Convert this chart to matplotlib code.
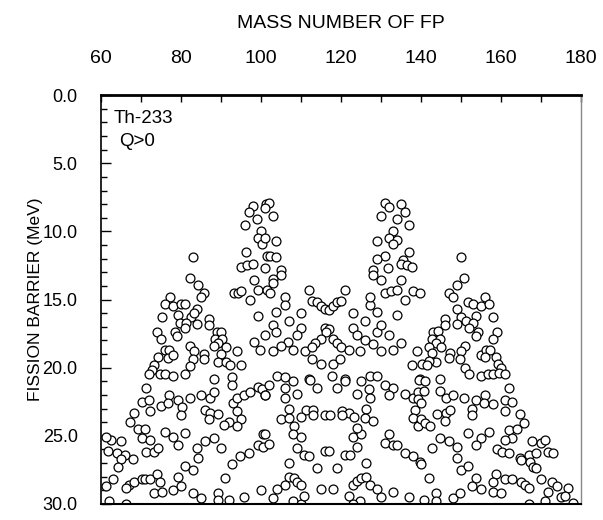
import matplotlib.pyplot as plt
from matplotlib.ticker import MultipleLocator

# Barrera de fision vs. numero masico del fragmento (Th-233, Q>0)
# banda superior: picos (E < 12 MeV)
masa_sup = [97.9, 101.2, 97.0, 99.0, 96.0, 100.0, 99.1, 100.2, 96.1, 83.0, 101.4,
            101.9, 100.9, 103.0, 100.9, 103.8, 102.2, 103.8,
            130.9, 132.1, 135.0, 136.0, 130.0, 133.9, 137.0, 132.9, 129.0, 131.9,
            133.9, 132.9, 137.0, 131.1, 129.0, 135.4, 150.1]
barrera_sup = [8.1, 8.0, 8.6, 9.1, 9.5, 10.0, 10.5, 10.9, 11.5, 11.9, 11.8,
               7.9, 8.3, 8.9, 10.5, 10.7, 11.8, 11.9,
               7.9, 8.2, 8.0, 8.6, 8.9, 9.1, 9.5, 10.0, 10.7, 10.5,
               10.6, 10.9, 11.5, 11.8, 12.0, 12.1, 11.9]

# banda media (12 - 21 MeV)
masa_med = [95.0, 96.5, 98.0, 101.0, 82.1, 84.2, 98.1, 93.2, 94.2, 95.0, 97.1, 99.1,
            101.4, 85.8, 85.0, 77.2, 76.0, 78.0, 79.9, 80.9, 84.0, 75.2, 79.1, 82.4,
            83.2, 79.6, 81.3, 84.0, 87.0, 87.0, 99.1, 80.9, 78.4, 73.9, 78.9, 75.0,
            89.0, 89.9, 88.4, 90.3, 101.0, 98.1, 99.8, 89.3, 88.3, 91.2, 82.1, 76.0,
            77.0, 74.2, 76.8, 78.0, 83.2, 85.8, 89.9, 94.0, 83.0, 85.8, 89.1, 91.2,
            92.2, 95.0, 82.1, 73.1, 72.7, 71.9, 74.8, 76.0, 78.0, 80.9, 88.3, 92.8,
            105.0, 105.0, 103.0, 103.0, 102.2, 106.0, 106.0, 103.8, 110.1, 112.0,
            112.8, 114.0, 115.0, 116.1, 116.9, 118.0, 119.1, 119.9, 121.0, 107.1,
            103.0, 103.8, 110.0, 109.0, 106.8, 105.0, 108.1, 103.0, 110.9, 116.1,
            116.9, 116.3, 115.0, 113.6, 112.8, 118.0, 119.1, 119.9, 122.1, 123.1,
            125.9, 123.1, 123.9, 125.9, 124.7, 128.0, 129.0, 130.0, 131.9, 129.0,
            127.2, 127.2, 131.1, 132.5, 133.9, 136.0, 138.0, 139.9, 134.9, 128.0,
            128.1, 130.0, 131.7, 134.9, 136.6, 137.8, 133.9, 130.0, 132.9, 134.9,
            139.0, 137.8, 140.3, 112.8, 115.0, 118.0, 119.8, 104.0, 106.0, 112.0,
            117.7, 121.0, 127.2, 129.0,
            150.9, 149.0, 147.0, 148.0, 151.9, 153.1, 155.0, 156.0, 157.0, 149.0,
            158.0, 153.9, 150.1, 151.3, 153.1, 149.0, 146.0, 146.0, 152.1, 154.2,
            153.9, 159.1, 158.0, 143.1, 144.3, 142.9, 144.9, 143.9, 145.1, 142.1,
            147.2, 151.1, 150.1, 147.0, 149.8, 142.9, 143.9, 142.1, 141.5, 155.0,
            156.4, 157.2, 156.0, 158.7, 159.3, 151.1, 160.1, 152.1, 155.0, 156.9,
            158.0, 159.5, 161.1, 144.9, 139.8]
barrera_med = [12.6, 12.5, 12.4, 12.7, 13.4, 13.9, 13.6, 14.5, 14.5, 14.4, 15.0, 14.3,
               14.3, 14.5, 14.8, 14.8, 15.3, 15.5, 15.3, 15.3, 15.7, 16.3, 16.1, 16.3,
               16.0, 16.7, 16.7, 16.8, 16.4, 16.9, 16.2, 17.1, 17.4, 17.4, 17.7, 17.9,
               17.4, 17.4, 17.9, 17.9, 17.6, 18.1, 18.7, 18.2, 18.4, 18.5, 18.4, 18.7,
               18.7, 19.2, 19.3, 19.1, 18.8, 19.0, 19.0, 18.8, 19.4, 19.4, 19.6, 19.6,
               19.8, 19.8, 19.9, 19.8, 20.2, 20.5, 20.5, 20.5, 20.6, 20.5, 20.8, 20.7,
               12.8, 13.2, 13.5, 13.8, 14.5, 14.8, 15.4, 15.9, 16.0, 14.3,
               15.1, 15.2, 15.5, 15.7, 15.8, 15.5, 15.2, 15.1, 14.3, 16.6,
               16.9, 17.4, 17.1, 17.6, 18.1, 18.4, 18.7, 18.8, 18.8, 17.1,
               17.2, 17.4, 17.9, 18.2, 18.5, 17.9, 18.2, 18.5, 18.7, 16.0,
               16.6, 17.1, 17.6, 18.0, 18.8, 18.3, 17.4, 16.9, 17.6, 15.9,
               15.4, 14.8, 14.5, 14.4, 14.3, 15.0, 14.4, 14.5, 13.6, 12.8,
               13.2, 13.6, 12.7, 12.4, 12.5, 12.6, 16.1, 18.8, 18.7, 18.2,
               18.8, 19.8, 19.7, 19.4, 19.7, 19.7, 19.4, 20.6, 20.7, 20.8,
               20.6, 20.8, 20.6, 20.6,
               13.4, 13.9, 14.5, 14.8, 15.2, 15.3, 15.5, 14.8, 15.3, 15.7,
               16.3, 16.2, 16.3, 16.6, 16.7, 16.8, 16.4, 16.9, 17.1, 17.4,
               17.7, 17.4, 17.9, 17.4, 17.3, 17.9, 17.9, 18.2, 18.5, 18.5,
               18.9, 18.4, 18.8, 19.3, 19.4, 18.9, 19.6, 19.5, 19.8, 19.1,
               18.7, 18.7, 19.2, 19.2, 19.7, 20.0, 20.0, 20.5, 20.6, 20.5,
               20.5, 20.4, 20.5, 20.8, 20.8]

# banda inferior (21 - 30 MeV)
masa_inf = [92.8, 71.1, 70.1, 71.9, 77.0, 79.1, 75.0, 76.8, 80.3, 79.9, 82.1, 85.0,
            87.3, 88.1, 86.0, 87.3, 89.1, 87.0, 93.0, 94.0, 95.7, 97.1, 99.1, 100.2,
            101.0, 94.0, 95.0, 92.0, 90.7, 94.0, 72.1, 68.2, 67.1, 69.3, 70.9, 70.1,
            72.1, 76.0, 78.0, 79.1, 80.9, 62.5, 64.9, 61.2, 61.6, 63.9, 66.0, 67.9,
            64.9, 71.1, 73.1, 74.2, 64.3, 63.0, 61.2, 62.0, 66.1, 67.0, 66.1, 68.2,
            70.1, 70.9, 72.1, 73.9, 74.8, 73.1, 75.2, 78.0, 79.9, 79.1, 80.9, 82.9,
            84.0, 84.2, 86.0, 88.1, 89.9, 83.0, 85.0, 89.1, 89.1, 92.0, 90.9, 92.8,
            94.8, 96.9, 99.1, 100.6, 100.4, 95.8, 99.9,
            107.9, 101.9, 106.0, 101.1, 106.0, 109.0, 112.2, 114.0, 119.0, 121.0,
            125.1, 127.0, 123.9, 127.2, 131.1, 132.9, 132.1, 136.0, 138.0, 139.3,
            139.5, 107.1, 105.0, 107.1, 111.2, 113.1, 110.1, 113.1, 116.1, 117.2,
            120.2, 122.1, 120.2, 123.2, 126.2, 125.9, 128.0, 101.1, 101.9, 108.3,
            107.9, 109.9, 109.0, 110.8, 112.0, 116.1, 116.9, 121.0, 122.2, 123.9,
            123.1, 125.1, 123.9, 131.9, 131.1, 133.1, 133.9, 136.0, 138.0, 139.9,
            138.6, 138.0, 139.3, 107.1, 114.0, 119.0, 126.2, 107.1, 108.3, 109.1,
            110.1, 106.0, 104.0, 103.0, 107.9, 110.1, 115.0, 118.0, 110.8, 122.9,
            124.0, 125.1, 126.2, 127.2, 129.0, 130.0, 132.9, 137.0, 122.1, 124.7,
            122.9,
            141.0, 140.8, 139.4, 140.0, 140.0, 141.0, 142.3, 162.1, 144.9, 146.2,
            148.0, 144.1, 146.2, 147.2, 146.0, 150.9, 153.9, 156.0, 155.8, 158.0,
            152.9, 152.9, 161.0, 162.9, 161.0, 164.8, 165.9, 162.1, 164.0, 162.9,
            161.0, 151.9, 157.0, 155.0, 153.9, 144.9, 147.0, 149.0, 142.9, 149.0,
            167.8, 170.0, 171.0, 159.1, 160.3, 162.1, 164.8, 165.1, 167.0, 167.3,
            168.9, 168.1, 168.9, 171.9, 173.0, 140.0, 150.1, 151.9, 142.1, 153.9,
            152.9, 155.0, 158.8, 158.0, 158.0, 160.1, 161.1, 162.8, 165.1, 166.0,
            167.0, 170.0, 172.8, 174.1, 176.9, 171.8, 175.1, 176.0, 171.0, 178.2,
            167.0, 143.9, 143.9, 140.8, 148.0, 149.8]
barrera_inf = [21.3, 21.5, 22.5, 22.4, 22.0, 22.4, 22.8, 22.6, 22.9, 23.5, 22.2, 22.0,
               22.2, 21.8, 23.1, 23.3, 23.4, 23.8, 22.6, 22.2, 22.0, 21.8, 21.4, 21.6,
               22.0, 23.2, 23.8, 24.0, 24.2, 24.3, 23.2, 23.3, 24.0, 24.5, 24.5, 25.2,
               25.3, 24.7, 25.1, 25.7, 24.8, 25.3, 25.4, 25.1, 26.1, 26.3, 26.4, 26.7,
               26.7, 26.2, 26.2, 25.9, 27.3, 28.2, 28.7, 29.8, 30.0, 28.6, 28.8, 28.4,
               28.2, 28.2, 28.2, 27.8, 28.4, 29.2, 29.1, 29.0, 28.7, 28.0, 27.2, 27.5,
               25.9, 26.6, 25.4, 25.2, 25.9, 29.2, 29.6, 29.2, 29.7, 29.7, 28.1, 27.1,
               26.5, 26.3, 25.7, 24.9, 25.8, 29.5, 29.0,
               21.0, 21.3, 21.5, 22.0, 22.2, 21.9, 20.9, 21.5, 21.5, 21.0,
               21.0, 21.6, 21.9, 22.2, 21.3, 21.5, 22.0, 21.9, 22.2, 21.8,
               20.9, 23.0, 23.8, 23.7, 23.1, 23.1, 23.6, 23.5, 23.5, 23.5,
               23.2, 23.3, 23.5, 23.6, 23.0, 23.7, 23.9, 24.9, 25.6, 24.3,
               24.9, 25.1, 25.9, 26.4, 26.5, 26.1, 26.1, 26.4, 26.4, 25.8,
               25.1, 24.9, 24.4, 24.9, 25.5, 25.7, 25.7, 26.3, 26.5, 26.9,
               23.1, 23.7, 24.3, 27.0, 27.4, 27.4, 27.0, 28.0, 28.1, 28.4,
               28.6, 28.6, 28.9, 29.6, 29.8, 30.0, 28.9, 28.9, 29.4, 28.6,
               28.3, 28.1, 28.0, 28.6, 28.9, 29.5, 29.1, 29.5, 29.4, 29.8,
               30.0,
               21.0, 21.7, 22.3, 22.6, 23.8, 24.1, 24.3, 21.5, 21.7, 22.2,
               22.0, 23.4, 23.3, 23.1, 23.9, 22.2, 22.4, 22.0, 22.6, 22.7,
               23.0, 23.5, 22.4, 22.5, 23.2, 23.4, 24.1, 24.6, 24.5, 25.2,
               25.3, 24.8, 24.7, 25.2, 25.7, 25.2, 25.4, 25.8, 25.9, 26.6,
               25.4, 25.5, 25.3, 26.0, 26.2, 26.3, 26.6, 26.8, 26.4, 26.9,
               26.3, 27.3, 27.4, 26.2, 26.3, 27.1, 27.5, 27.2, 28.1, 28.1,
               28.7, 28.9, 27.8, 28.4, 29.1, 29.2, 28.2, 28.2, 28.4, 28.6,
               28.8, 28.2, 28.4, 28.7, 28.8, 29.1, 29.5, 29.4, 29.8, 29.9,
               30.0, 29.2, 29.8, 29.7, 29.6, 29.2]

plt.rcParams['font.family'] = ['Liberation Sans', 'DejaVu Sans']

fig = plt.figure(figsize=(6.03, 5.2), dpi=100)
ax = fig.add_axes([0.168, 0.031, 0.795, 0.786])

for m, b in [(masa_sup, barrera_sup), (masa_med, barrera_med), (masa_inf, barrera_inf)]:
    ax.plot(m, b, 'o', ms=6.4, mfc='white', mec='black', mew=0.9, ls='none')

ax.set_xlim(60, 180)
ax.set_ylim(30, 0)

ax.xaxis.tick_top()
ax.xaxis.set_label_position('top')
ax.xaxis.set_major_locator(MultipleLocator(20))
ax.xaxis.set_minor_locator(MultipleLocator(10))
ax.yaxis.set_major_locator(MultipleLocator(5))
ax.yaxis.set_minor_locator(MultipleLocator(1))
ax.yaxis.set_major_formatter(plt.FormatStrFormatter('%.1f'))
ax.tick_params(which='both', direction='in', labelsize=13)
ax.tick_params(axis='x', which='both', length=5, width=1, pad=20, labelsize=14)
ax.tick_params(axis='y', which='major', length=7, width=1, pad=17)
ax.tick_params(axis='y', which='minor', length=4, width=1)

ax.set_xlabel('MASS NUMBER OF FP', fontsize=14, labelpad=16)
ax.set_ylabel('FISSION BARRIER (MeV)', fontsize=12.5, labelpad=0)

ax.spines['top'].set_linewidth(2)
ax.spines['left'].set_linewidth(1.2)
ax.spines['bottom'].set_linewidth(1.5)
ax.spines['right'].set_linewidth(1)
ax.spines['right'].set_color('#888888')

ax.text(63.0, 1.7, 'Th-233', fontsize=13.5, va='center')
ax.text(69.0, 3.4, 'Q>0', fontsize=13.5, va='center', ha='center')

plt.savefig('out.png', dpi=100)
